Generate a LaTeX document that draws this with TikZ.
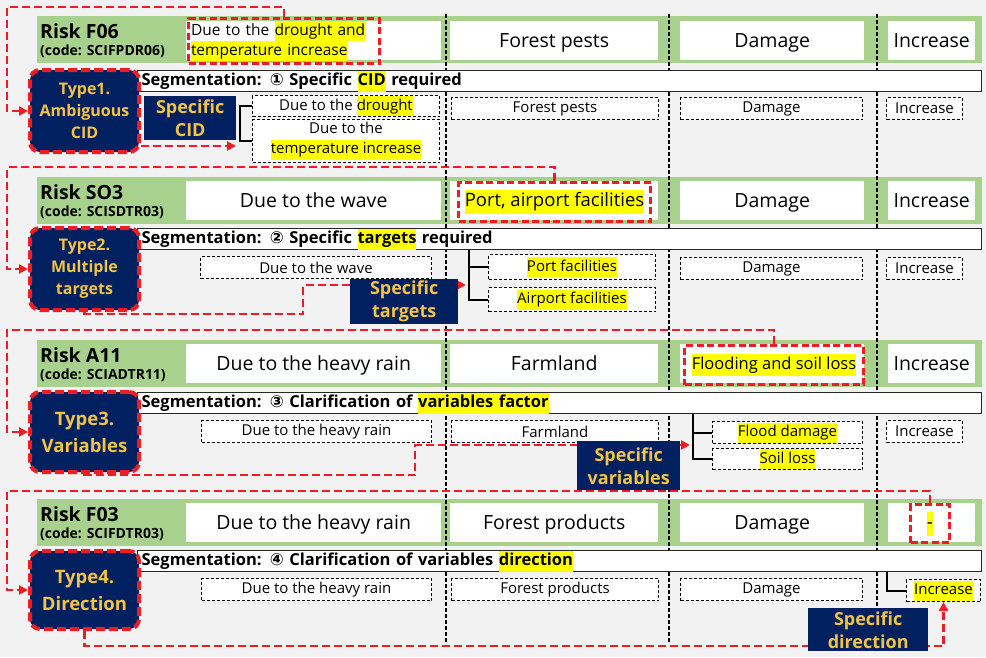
\documentclass[tikz,border=0pt]{standalone}
\usepackage{fontspec}
\setmainfont{Open Sans}[BoldFont={Open Sans Bold}]
\newfontfamily\circfont{DejaVu Sans}
\usetikzlibrary{arrows.meta}

\definecolor{bgray}{HTML}{F2F2F2}
\definecolor{lgreen}{HTML}{A9D18E}
\definecolor{navy}{HTML}{002060}
\definecolor{gold}{HTML}{F5C342}
\definecolor{rred}{HTML}{EE1C25}
\definecolor{hly}{HTML}{FFFF00}
\newcommand{\hlt}[1]{{\setlength{\fboxsep}{0pt}\colorbox{hly}{\strut#1}}}

\tikzset{
  greenbar/.style={fill=lgreen, anchor=north west, inner sep=0, minimum width=945pt, minimum height=47pt},
  topcell/.style={fill=white, anchor=north west, inner sep=0, minimum height=39pt, text height=14pt, text depth=1pt,
    font=\fontsize{19.5}{24}\selectfont},
  riskname/.style={anchor=west, inner sep=0, font=\bfseries\fontsize{19.5}{22}\selectfont},
  riskcode/.style={anchor=west, inner sep=0, font=\bfseries\fontsize{14}{16}\selectfont},
  redbox/.style={draw=rred, line width=3pt, dash pattern=on 7pt off 3.5pt, anchor=north west, inner sep=0},
  segbar/.style={fill=white, draw=black!85, line width=1.2pt, anchor=north west, inner xsep=4pt, inner ysep=0,
    text width=836pt, align=left, minimum height=21pt, font=\bfseries\fontsize{16.5}{21}\selectfont},
  lowbox/.style={fill=white, draw=black, line width=1pt, densely dashed, anchor=north west, inner sep=0,
    minimum height=22pt, font=\fontsize{15}{20}\selectfont},
  typebox/.style={fill=navy, draw=rred, line width=4pt, dash pattern=on 9pt off 4pt, rounded corners=10pt,
    anchor=north west, inner sep=0, minimum width=109pt, text=gold, align=center, font=\bfseries\fontsize{16}{22}\selectfont},
  typebig/.style={font=\bfseries\fontsize{18.5}{27}\selectfont},
  specbox/.style={fill=navy, anchor=north west, inner sep=0, text=gold, align=center, font=\bfseries\fontsize{18}{23}\selectfont},
  treeline/.style={draw=black, line width=2pt},
  sepline/.style={draw=black, line width=2pt, dash pattern=on 4pt off 2pt},
  redarrow/.style={draw=rred, line width=2.5pt, dash pattern=on 8pt off 4pt, -{Triangle[length=9pt,width=9pt]}}
}

\begin{document}
\begin{tikzpicture}[x=1pt,y=-1pt]
\fill[bgray] (0,0) rectangle (986,657); % background
\useasboundingbox (0,0) rectangle (986,657);

% green header bars with the four cells
\node[greenbar] (g1) at (37,16) {};
\node[greenbar] (g2) at (37,177) {};
\node[greenbar] (g3) at (37,340) {};
\node[greenbar] (g4) at (37,499) {};
\node[riskname] (rk1) at (40,31) {Risk F06};
\node[riskcode] (cd1) at (40,51) {(code: SCIFPDR06)};
\node[riskname] (rk2) at (40,192) {Risk SO3};
\node[riskcode] (cd2) at (40,212) {(code: SCISDTR03)};
\node[riskname] (rk3) at (40,355) {Risk A11};
\node[riskcode] (cd3) at (40,375) {(code: SCIADTR11)};
\node[riskname] (rk4) at (40,514) {Risk F03};
\node[riskcode] (cd4) at (40,534) {(code: SCIFDTR03)};

\node[topcell, minimum width=255pt] (c11) at (186,21) {};
\node[topcell, minimum width=208pt] (c12) at (450,21) {Forest pests};
\node[topcell, minimum width=184pt] (c13) at (680,21) {Damage};
\node[topcell, minimum width=87pt] (c14) at (888,21) {Increase};
\node[topcell, minimum width=255pt] (c21) at (186,181) {Due to the wave};
\node[topcell, minimum width=208pt] (c22) at (450,181) {};
\node[topcell, minimum width=184pt] (c23) at (680,181) {Damage};
\node[topcell, minimum width=87pt] (c24) at (888,181) {Increase};
\node[topcell, minimum width=255pt] (c31) at (186,344) {Due to the heavy rain};
\node[topcell, minimum width=208pt] (c32) at (450,344) {Farmland};
\node[topcell, minimum width=184pt] (c33) at (680,344) {};
\node[topcell, minimum width=87pt] (c34) at (888,344) {Increase};
\node[topcell, minimum width=255pt] (c41) at (186,503) {Due to the heavy rain};
\node[topcell, minimum width=208pt] (c42) at (450,503) {Forest products};
\node[topcell, minimum width=184pt] (c43) at (680,503) {Damage};
\node[topcell, minimum width=87pt] (c44) at (888,503) {};

% the ambiguous parts, boxed in red
\node[redbox, minimum width=191pt, minimum height=45pt, text width=186pt, align=left, font=\fontsize{15.5}{20}\selectfont] (r1) at (187,17) {Due to the \hlt{drought and}\\\hlt{temperature increase}};
\node[redbox, minimum width=192pt, minimum height=39pt, font=\fontsize{18.5}{24}\selectfont] (r2) at (457,181) {\hlt{Port, airport facilities}};
\node[redbox, minimum width=179pt, minimum height=39pt, font=\fontsize{16.5}{22}\selectfont] (r3) at (683,344) {\hlt{Flooding and soil loss}};
\node[redbox, minimum width=39pt, minimum height=38pt, font=\fontsize{19}{24}\selectfont] (r4) at (909,503) {\hlt{-}};

\foreach \sx in {446,669,877} \draw[sepline] (\sx,14) -- (\sx,643); % column separators

% segmentation bars
\node[segbar] (s1) at (137,70) {Segmentation: {\circfont ①} Specific \hlt{CID} required};
\node[segbar] (s2) at (137,228) {Segmentation: {\circfont ②} Specific \hlt{targets} required};
\node[segbar] (s3) at (137,392) {Segmentation: {\circfont ③} Clarification of \hlt{variables factor}};
\node[segbar] (s4) at (137,550) {Segmentation: {\circfont ④} Clarification of variables \hlt{direction}};

% panel 1 lower row
\node[lowbox, minimum width=187pt, minimum height=21pt] (b11) at (252,95) {Due to the \hlt{drought}};
\node[lowbox, minimum width=187pt, minimum height=43pt, align=center] (b12) at (252,119) {Due to the\\\hlt{temperature increase}};
\node[lowbox, minimum width=207pt] (l12) at (451,97) {Forest pests};
\node[lowbox, minimum width=182pt] (l13) at (680,97) {Damage};
\node[lowbox, minimum width=76pt] (l14) at (886,97) {Increase};
\draw[treeline] (b11.west) -- ++(-12,0) |- (b12.west);

% panel 2 lower row
\node[lowbox, minimum width=231pt] (l21) at (200,256) {Due to the wave};
\node[lowbox, minimum width=167pt, minimum height=25pt] (b21) at (488,254) {\hlt{Port facilities}};
\node[lowbox, minimum width=167pt, minimum height=24pt] (b22) at (488,287) {\hlt{Airport facilities}};
\node[lowbox, minimum width=182pt] (l23) at (680,257) {Damage};
\node[lowbox, minimum width=76pt] (l24) at (886,257) {Increase};
\draw[treeline] (s2.south -| 469,0) |- (b22.west);
\draw[treeline] (b21.west) -- (b21.west -| 469,0);

% panel 3 lower row
\node[lowbox, minimum width=230pt] (l31) at (201,420) {Due to the heavy rain};
\node[lowbox, minimum width=207pt] (l32) at (451,420) {Farmland};
\node[lowbox, minimum width=150pt] (b31) at (712,421) {\hlt{Flood damage}};
\node[lowbox, minimum width=150pt, minimum height=21pt] (b32) at (712,448) {\hlt{Soil loss}};
\node[lowbox, minimum width=76pt] (l34) at (886,420) {Increase};
\draw[treeline] (s3.south -| 693,0) |- (b32.west);
\draw[treeline] (b31.west) -- (b31.west -| 693,0);

% panel 4 lower row
\node[lowbox, minimum width=230pt] (l41) at (201,578) {Due to the heavy rain};
\node[lowbox, minimum width=207pt] (l42) at (451,578) {Forest products};
\node[lowbox, minimum width=182pt] (l43) at (680,578) {Damage};
\node[lowbox, minimum width=74pt] (b41) at (906,579) {\hlt{Increase}};
\draw[treeline] (s4.south -| 887,0) |- (b41.west);

% type boxes
\node[typebox, minimum height=82pt] (t1) at (28,68) {Type1.\\Ambiguous\\CID};
\node[typebox, minimum height=82pt] (t2) at (28,226) {Type2.\\Multiple\\targets};
\node[typebox, typebig, minimum height=80pt] (t3) at (28,390) {Type3.\\Variables};
\node[typebox, typebig, minimum height=78pt] (t4) at (28,549) {Type4.\\Direction};

% arrows from the type boxes to the split items
\coordinate (k1) at (236,146);
\coordinate (k2) at (466,285);
\coordinate (k3) at (690,445);
\draw[redarrow] (t1.east |- k1) -- (k1);
\draw[redarrow] (t2.south) |- (303,314) |- (k2);
\draw[redarrow] (t3.south) |- (415,475) |- (k3);
\draw[redarrow] (t4.south) -- ++(0,15) -| (b41.south);

\node[specbox, minimum width=92pt, minimum height=44pt] (sp1) at (144,96) {Specific\\CID};
\node[specbox, minimum width=108pt, minimum height=45pt] (sp2) at (350,279) {Specific\\targets};
\node[specbox, minimum width=103pt, minimum height=49pt] (sp3) at (577,441) {Specific\\variables};
\node[specbox, minimum width=120pt, minimum height=43pt] (sp4) at (808,608) {Specific\\direction};

% red loops from the boxed parts back to the type boxes
\draw[redarrow] (r1.north) |- (7,7) |- (t1.west);
\draw[redarrow] (r2.north) |- (7,167) |- (t2.west);
\draw[redarrow] (r3.north) |- (7,330) |- (t3.west);
\draw[redarrow] (r4.north) |- (7,491) |- (t4.west);
\end{tikzpicture}
\end{document}
